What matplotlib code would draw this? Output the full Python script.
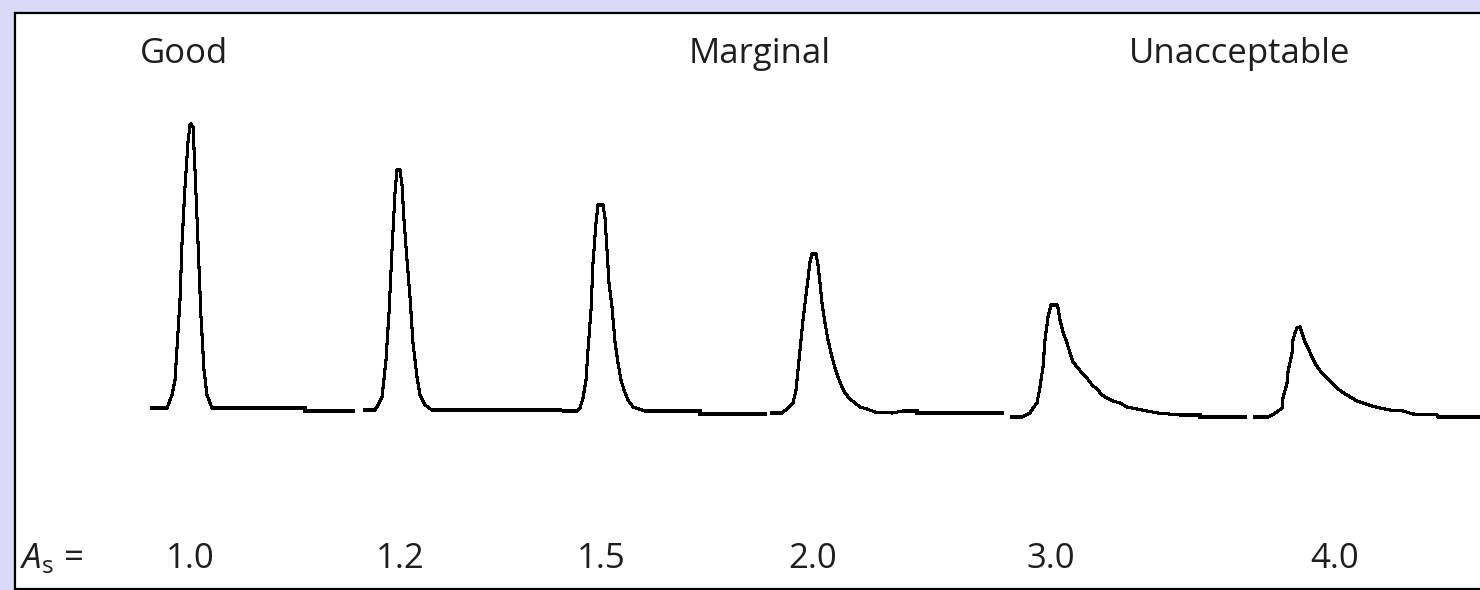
import matplotlib
matplotlib.use("Agg")
import matplotlib.pyplot as plt

plt.rcParams['font.family'] = ['Open Sans', 'DejaVu Sans']
plt.rcParams['mathtext.fontset'] = 'custom'
plt.rcParams['mathtext.rm'] = 'Open Sans'
plt.rcParams['mathtext.it'] = 'Open Sans:italic'

# chromatogram trace, one run per asymmetry factor (time in min, signal in mV)
t1 = [1.52, 1.67, 1.72, 1.75, 1.77, 1.80, 1.82, 1.85, 1.88, 1.90, 1.91, 1.93, 1.95, 1.98,
      2.01, 2.04, 2.07, 2.12, 3.05, 3.05, 3.53]
s1 = [12, 12, 25, 40, 72, 120, 177, 233, 278, 295, 296, 293, 250, 178,
      103, 50, 25, 12, 12, 9, 9]

t2 = [3.65, 3.75, 3.78, 3.82, 3.83, 3.86, 3.89, 3.92, 3.95, 3.97, 4.00, 4.02, 4.04, 4.07,
      4.10, 4.13, 4.17, 4.20, 4.25, 4.32, 5.60]
s2 = [10, 10, 15, 23, 32, 60, 107, 170, 227, 250, 250, 235, 200, 160,
      123, 77, 43, 25, 15, 10, 10]

t3 = [5.64, 5.77, 5.80, 5.83, 5.86, 5.88, 5.91, 5.93, 5.96, 5.98, 6.03, 6.05, 6.07, 6.09,
      6.12, 6.15, 6.18, 6.21, 6.24, 6.28, 6.33, 6.42, 6.45, 7.00, 7.00, 7.65]
s3 = [9, 9, 12, 22, 40, 70, 110, 157, 197, 215, 215, 202, 170, 137,
      113, 78, 57, 40, 30, 20, 13, 10, 9, 9, 6, 6]

t4 = [7.72, 7.82, 7.88, 7.93, 7.96, 8.00, 8.03, 8.07, 8.10, 8.12, 8.16, 8.18, 8.20, 8.22,
      8.25, 8.28, 8.32, 8.35, 8.38, 8.42, 8.45, 8.50, 8.55, 8.60, 8.67, 8.75, 8.92, 9.03,
      9.17, 9.17, 10.02]
s4 = [7, 7, 12, 17, 30, 70, 100, 133, 158, 166, 166, 155, 137, 117,
      97, 80, 63, 52, 43, 33, 27, 21, 17, 13, 11, 8, 7, 9,
      9, 7, 7]

t5 = [10.12, 10.22, 10.30, 10.33, 10.37, 10.40, 10.43, 10.45, 10.48, 10.51, 10.57, 10.58,
      10.60, 10.63, 10.67, 10.70, 10.73, 10.78, 10.82, 10.87, 10.92, 10.97, 11.02, 11.07,
      11.13, 11.20, 11.27, 11.37, 11.47, 11.58, 11.80, 12.00, 12.00, 12.45]
s5 = [3, 3, 7, 12, 17, 33, 53, 80, 103, 115, 115, 112,
      100, 88, 77, 67, 58, 52, 47, 42, 35, 31, 25, 22,
      19, 17, 13, 11, 9, 7, 5, 5, 3, 3]

t6 = [12.55, 12.68, 12.72, 12.77, 12.82, 12.83, 12.87, 12.88, 12.92, 12.93, 12.95, 12.97,
      13.00, 13.02, 13.05, 13.08, 13.12, 13.15, 13.18, 13.22, 13.27, 13.32, 13.37, 13.42,
      13.47, 13.52, 13.57, 13.63, 13.72, 13.80, 13.90, 14.03, 14.13, 14.37, 14.38, 14.80]
s6 = [3, 3, 5, 8, 12, 22, 37, 48, 67, 80, 87, 92,
      93, 87, 78, 72, 63, 57, 52, 47, 42, 37, 32, 28,
      25, 22, 19, 17, 14, 12, 10, 9, 6, 5, 3, 3]

asym_labels = ['1.0', '1.2', '1.5', '2.0', '3.0', '4.0']
asym_pos = [1.90, 4.00, 6.01, 8.13, 10.51, 13.35]

quality_labels = ['Good', 'Marginal', 'Unacceptable']
quality_pos = [1.845, 7.60, 13.50]
quality_ha = ['center', 'center', 'right']

fig = plt.figure(figsize=(14.8, 5.9), dpi=100, facecolor='#dadaf8')
ax = fig.add_axes([15 / 1480, 1.5 / 590, 1 - 15 / 1480, 575.5 / 590])
ax.set_facecolor('white')

for t, s in [(t1, s1), (t2, s2), (t3, s3), (t4, s4), (t5, s5), (t6, s6)]:
    ax.plot(t, s, color='black', lw=1.5, antialiased=False, solid_joinstyle='miter')

ax.set_xlim(0.15, 14.80)
ax.set_ylim(-168.5, 407)
ax.set_xticks([])
ax.set_yticks([])
ax.spines['right'].set_visible(False)
for side in ['left', 'top', 'bottom']:
    ax.spines[side].set_linewidth(1.6)
    ax.spines[side].set_color('black')

txt = '#1e1e1e'
for lab, x, ha in zip(quality_labels, quality_pos, quality_ha):
    ax.text(x, 357, lab, ha=ha, va='baseline', fontsize=25, color=txt)

ax.text(0.20, -148, r'$A_\mathregular{s}$ =', ha='left', va='baseline', fontsize=25, color=txt)
for lab, x in zip(asym_labels, asym_pos):
    ax.text(x, -148, lab, ha='center', va='baseline', fontsize=25, color=txt)

fig.savefig('out.png', dpi=100, facecolor=fig.get_facecolor())
